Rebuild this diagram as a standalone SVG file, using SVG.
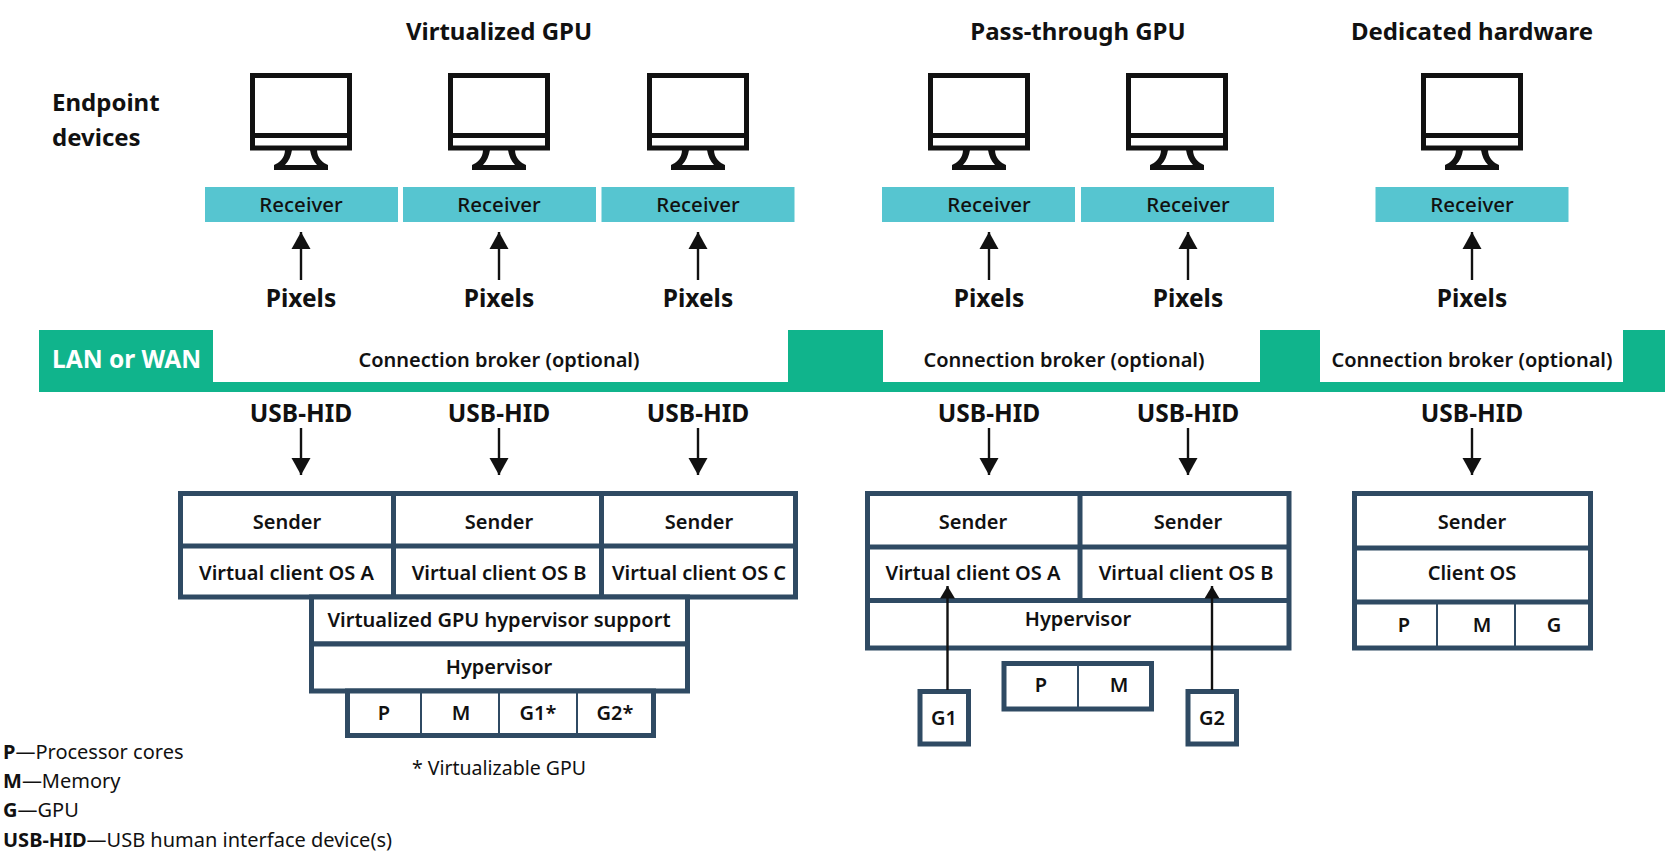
<svg xmlns="http://www.w3.org/2000/svg" width="1672" height="860" viewBox="0 0 1672 860">
<style>
text{font-family:"Noto Sans","Liberation Sans",sans-serif;fill:#111;text-anchor:middle}
.h{font-size:24px;font-weight:700}
.l{font-size:24.500px;font-weight:700}
.t{font-size:20px;font-weight:600}
.r{font-size:20.500px;font-weight:500}
.k{font-size:20px;text-anchor:start}
.b{font-weight:700}
.rc{fill:#56c5d0}
.box{fill:#fff;stroke:#2f4a63;stroke-width:5}
.dv{fill:none;stroke:#2f4a63;stroke-width:5}
.thin{fill:none;stroke:#2f4a63;stroke-width:2}
.m{fill:none;stroke:#111;stroke-width:5}
.c{stroke:#111;stroke-width:2.400;fill:none;marker-end:url(#ah)}
.g{stroke:#111;stroke-width:2.400;fill:none;marker-end:url(#as)}
</style>
<defs>
<marker id="ah" markerUnits="userSpaceOnUse" markerWidth="20" markerHeight="20" refX="17" refY="10" orient="auto"><path d="M0 0.500L17 10L0 19.500Z" fill="#111"/></marker>
<marker id="as" markerUnits="userSpaceOnUse" markerWidth="14" markerHeight="16" refX="12.500" refY="8" orient="auto"><path d="M0 0.500L12.500 8L0 15.500Z" fill="#111"/></marker>
<g id="mon">
<rect class="m" x="-48.500" y="-74.500" width="97" height="72.500"/>
<path class="m" d="M-48-14.500H48"/>
<path fill-rule="evenodd" fill="#111" d="M-16 0C-16 8-22 13-27 15V20H27V15C22 13 16 8 16 0ZM-9 0H9C10 6 12 11 16 15H-16C-12 11-10 6-9 0Z"/>
</g>
</defs>
<g id="headers">
<text class="h" x="499" y="40">Virtualized GPU</text>
<text class="h" x="1078" y="40">Pass-through GPU</text>
<text class="h" x="1472" y="40">Dedicated hardware</text>
<text class="h" x="52" y="111" style="text-anchor:start">Endpoint</text>
<text class="h" x="52" y="146" style="text-anchor:start">devices</text>
</g>
<g id="network">
<path d="M39 330H213V382H788V330H883V382H1260V330H1320V382H1623V330H1665V392H39Z" fill="#10b48c"/>
<text x="52" y="368" style="text-anchor:start;fill:#fff;font-size:24.500px;font-weight:700">LAN or WAN</text>
<text class="t" x="499" y="367">Connection broker (optional)</text>
<text class="t" x="1064" y="367">Connection broker (optional)</text>
<text class="t" x="1472" y="367">Connection broker (optional)</text>
</g>
<g id="connectors">
<path class="c" d="M301 280V232"/><path class="c" d="M499 280V232"/><path class="c" d="M698 280V232"/><path class="c" d="M989 280V232"/><path class="c" d="M1188 280V232"/><path class="c" d="M1472 280V232"/>
<path class="c" d="M301 428V475"/><path class="c" d="M499 428V475"/><path class="c" d="M698 428V475"/><path class="c" d="M989 428V475"/><path class="c" d="M1188 428V475"/><path class="c" d="M1472 428V475"/>
</g>
<g id="endpoint-1"><use href="#mon" x="301" y="150"/><rect class="rc" x="205" y="187" width="193" height="35"/><text class="r" x="301" y="212">Receiver</text><text class="l" x="301" y="307">Pixels</text><text class="l" x="301" y="422">USB-HID</text></g>
<g id="endpoint-2"><use href="#mon" x="499" y="150"/><rect class="rc" x="403" y="187" width="193" height="35"/><text class="r" x="499" y="212">Receiver</text><text class="l" x="499" y="307">Pixels</text><text class="l" x="499" y="422">USB-HID</text></g>
<g id="endpoint-3"><use href="#mon" x="698" y="150"/><rect class="rc" x="601.500" y="187" width="193" height="35"/><text class="r" x="698" y="212">Receiver</text><text class="l" x="698" y="307">Pixels</text><text class="l" x="698" y="422">USB-HID</text></g>
<g id="endpoint-4"><use href="#mon" x="979" y="150"/><rect class="rc" x="882" y="187" width="193" height="35"/><text class="r" x="989" y="212">Receiver</text><text class="l" x="989" y="307">Pixels</text><text class="l" x="989" y="422">USB-HID</text></g>
<g id="endpoint-5"><use href="#mon" x="1177" y="150"/><rect class="rc" x="1081" y="187" width="193" height="35"/><text class="r" x="1188" y="212">Receiver</text><text class="l" x="1188" y="307">Pixels</text><text class="l" x="1188" y="422">USB-HID</text></g>
<g id="endpoint-6"><use href="#mon" x="1472" y="150"/><rect class="rc" x="1375.500" y="187" width="193" height="35"/><text class="r" x="1472" y="212">Receiver</text><text class="l" x="1472" y="307">Pixels</text><text class="l" x="1472" y="422">USB-HID</text></g>
<g id="stack-virtualized">
<rect class="box" x="180.500" y="493.500" width="615" height="103.500"/>
<path class="dv" d="M180 546H796M393.500 493V597M601.500 493V597"/>
<rect class="box" x="311.500" y="597" width="376" height="47"/>
<rect class="box" x="311.500" y="644" width="376" height="47"/>
<rect class="box" x="347.500" y="691" width="306" height="44.500"/>
<path class="thin" d="M421 691V735M499 691V735M577 691V735"/>
<text class="t" x="287" y="529">Sender</text><text class="t" x="499" y="529">Sender</text><text class="t" x="699" y="529">Sender</text>
<text class="t" x="286.500" y="580">Virtual client OS A</text><text class="t" x="499" y="580">Virtual client OS B</text><text class="t" x="699" y="580">Virtual client OS C</text>
<text class="t" x="499" y="627">Virtualized GPU hypervisor support</text>
<text class="t" x="499" y="674">Hypervisor</text>
<text class="t" x="384" y="720">P</text><text class="t" x="461" y="720">M</text><text class="t" x="538" y="720">G1*</text><text class="t" x="615" y="720">G2*</text>
<text x="499" y="775" style="font-size:19.500px">* Virtualizable GPU</text>
</g>
<g id="stack-passthrough">
<rect class="box" x="867.500" y="493.500" width="421.500" height="154.500"/>
<path class="dv" d="M867 547H1289M867 600.500H1289M1080 493V600"/>
<text class="t" x="973" y="529">Sender</text><text class="t" x="1188" y="529">Sender</text>
<text class="t" x="973" y="580">Virtual client OS A</text><text class="t" x="1186" y="580">Virtual client OS B</text>
<text class="t" x="1078" y="626">Hypervisor</text>
<rect class="box" x="1004" y="663.500" width="147.500" height="45.500"/>
<path class="thin" d="M1078 663V709"/>
<text class="t" x="1041" y="692">P</text><text class="t" x="1119" y="692">M</text>
<rect class="box" x="920" y="691.500" width="48.500" height="52.500"/><text class="t" x="944" y="725">G1</text>
<rect class="box" x="1188" y="691.500" width="48.500" height="52.500"/><text class="t" x="1212" y="725">G2</text>
<path class="g" d="M947.500 690V586"/><path class="g" d="M1212 690V586"/>
</g>
<g id="stack-dedicated">
<rect class="box" x="1354.500" y="493.500" width="236" height="154.500"/>
<path class="dv" d="M1354 548H1591M1354 602H1591"/>
<path class="thin" d="M1437 602V648M1515 602V648"/>
<text class="t" x="1472" y="529">Sender</text><text class="t" x="1472" y="580">Client OS</text>
<text class="t" x="1404" y="632">P</text><text class="t" x="1482" y="632">M</text><text class="t" x="1554" y="632">G</text>
</g>
<g id="legend">
<text class="k" x="3" y="759"><tspan class="b">P</tspan>—Processor cores</text>
<text class="k" x="3" y="788"><tspan class="b">M</tspan>—Memory</text>
<text class="k" x="3" y="817"><tspan class="b">G</tspan>—GPU</text>
<text class="k" x="3" y="847"><tspan class="b">USB-HID</tspan>—USB human interface device(s)</text>
</g>
</svg>
